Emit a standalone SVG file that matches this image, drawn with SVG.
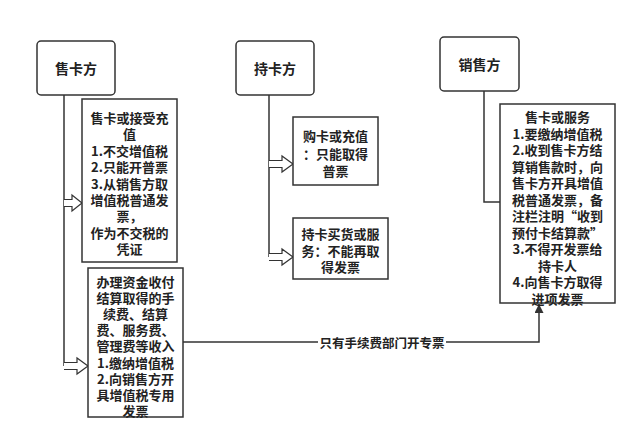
<svg xmlns="http://www.w3.org/2000/svg" width="640" height="443" viewBox="0 0 640 443">
<defs>
<style>
.box{fill:#fff;stroke:#333;stroke-width:1.5}
.ln{fill:none;stroke:#333;stroke-width:1.5}
.ha{fill:#fff;stroke:#333;stroke-width:1.2;stroke-linejoin:miter}
text{font-family:"Noto Sans CJK SC","Noto Sans",sans-serif;font-weight:bold;fill:#222;text-anchor:middle;dominant-baseline:central}
.t{font-size:14px}
.b{font-size:13px}
.lb{font-size:12.5px}
</style>
<marker id="arr" viewBox="0 0 10 10" refX="10" refY="5" markerWidth="9" markerHeight="9" markerUnits="userSpaceOnUse" orient="auto">
<path d="M0,0 L10,5 L0,10 Z" fill="#333"/>
</marker>
</defs>
<rect width="640" height="443" fill="#fff"/>
<g id="connectors">
<path class="ln" d="M64,95 V366"/>
<path class="ha" d="M64,199.5 H72 V195 L82,203 L72,211 V206.5 H64"/>
<path class="ha" d="M64,362.5 H77 V358 L88,366 L77,374 V369.5 H64"/>
<path class="ln" d="M269,95 V257"/>
<path class="ha" d="M269,160.5 H282 V156 L293,164 L282,172 V167.5 H269"/>
<path class="ha" d="M269,253.5 H282 V249 L293,257 L282,265 V260.5 H269"/>
<path class="ln" d="M484,91 V202 H500"/>
<path class="ln" d="M183,342 H539 V304" marker-end="url(#arr)"/>
<rect x="318" y="334" width="128" height="16" fill="#fff"/>
<text class="lb" x="382" y="342">只有手续费部门开专票</text>
</g>
<g id="seller-card">
<rect class="box" x="37" y="41" width="78" height="54" rx="4"/>
<text class="t" x="76" y="68">售卡方</text>
</g>
<g id="holder-card">
<rect class="box" x="236" y="41" width="78" height="54" rx="4"/>
<text class="t" x="275" y="68">持卡方</text>
</g>
<g id="seller">
<rect class="box" x="440" y="37" width="79" height="54" rx="4"/>
<text class="t" x="479.5" y="64">销售方</text>
</g>
<g id="box1">
<rect class="box" x="82" y="99" width="95" height="163"/>
<text class="b" x="129.5" y="117"><tspan x="129.5">售卡或接受充</tspan><tspan x="129.5" dy="16.4">值</tspan><tspan x="129.5" dy="16.4">1.不交增值税</tspan><tspan x="129.5" dy="16.4">2.只能开普票</tspan><tspan x="129.5" dy="16.4">3.从销售方取</tspan><tspan x="129.5" dy="16.4">增值税普通发</tspan><tspan x="129.5" dy="16.4">票，</tspan><tspan x="129.5" dy="16.4">作为不交税的</tspan><tspan x="129.5" dy="16.4">凭证</tspan></text>
</g>
<g id="box2">
<rect class="box" x="88" y="268" width="95" height="149"/>
<text class="b" x="135.5" y="281"><tspan x="135.5">办理资金收付</tspan><tspan x="135.5" dy="16.1">结算取得的手</tspan><tspan x="135.5" dy="16.1">续费、结算</tspan><tspan x="135.5" dy="16.1">费、服务费、</tspan><tspan x="135.5" dy="16.1">管理费等收入</tspan><tspan x="135.5" dy="16.1">1.缴纳增值税</tspan><tspan x="135.5" dy="16.1">2.向销售方开</tspan><tspan x="135.5" dy="16.1">具增值税专用</tspan><tspan x="135.5" dy="16.1">发票</tspan></text>
</g>
<g id="boxA">
<rect class="box" x="293" y="117" width="85" height="68"/>
<text class="b" x="335.5" y="135"><tspan x="335.5">购卡或充值</tspan><tspan x="335.5" dy="17.5">：只能取得</tspan><tspan x="335.5" dy="17.5">普票</tspan></text>
</g>
<g id="boxB">
<rect class="box" x="293" y="218" width="95" height="61"/>
<text class="b" x="340.5" y="233"><tspan x="340.5">持卡买货或服</tspan><tspan x="340.5" dy="16.5">务：不能再取</tspan><tspan x="340.5" dy="16.5">得发票</tspan></text>
</g>
<g id="boxC">
<rect class="box" x="500" y="104" width="115" height="199"/>
<text class="b" x="557.5" y="116"><tspan x="557.5">售卡或服务</tspan><tspan x="557.5" dy="16.5">1.要缴纳增值税</tspan><tspan x="557.5" dy="16.5">2.收到售卡方结</tspan><tspan x="557.5" dy="16.5">算销售款时，向</tspan><tspan x="557.5" dy="16.5">售卡方开具增值</tspan><tspan x="557.5" dy="16.5">税普通发票，备</tspan><tspan x="557.5" dy="16.5">注栏注明“收到</tspan><tspan x="557.5" dy="16.5">预付卡结算款”</tspan><tspan x="557.5" dy="16.5">3.不得开发票给</tspan><tspan x="557.5" dy="16.5">持卡人</tspan><tspan x="557.5" dy="16.5">4.向售卡方取得</tspan><tspan x="557.5" dy="16.5">进项发票</tspan></text>
</g>
</svg>
